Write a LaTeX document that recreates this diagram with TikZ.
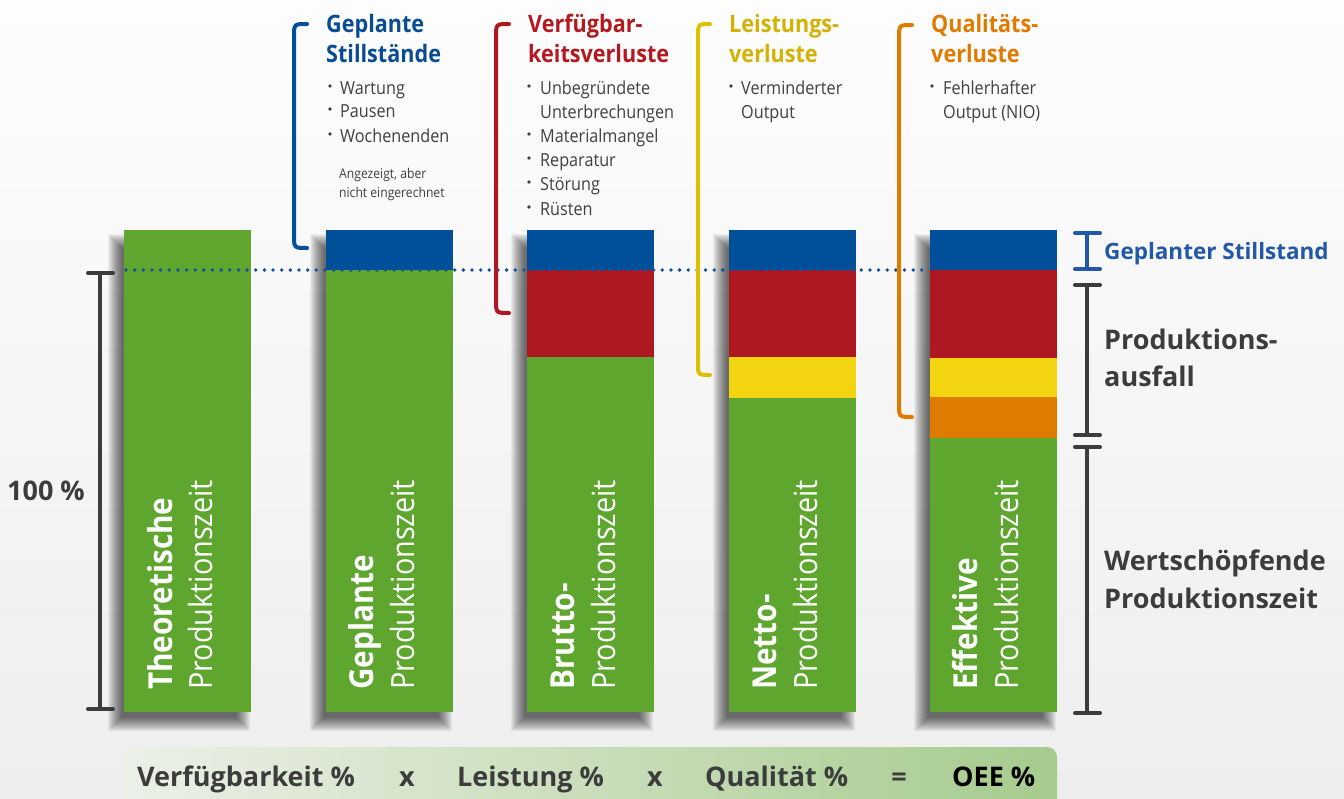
\documentclass[tikz,border=0pt]{standalone}
\usepackage{fontspec}
\setmainfont{Open Sans}[FakeStretch=0.9]
\newfontfamily\widefont{Open Sans}

\definecolor{bgtop}{HTML}{FDFDFD}
\definecolor{bgbot}{HTML}{EEEEEE}
\definecolor{cgreen}{HTML}{5EA62E}
\definecolor{cblue}{HTML}{004F9A}
\definecolor{cred}{HTML}{AE1820}
\definecolor{cyellow}{HTML}{F2D411}
\definecolor{corange}{HTML}{DE7C00}
\definecolor{hblue}{HTML}{0A4C94}
\definecolor{hred}{HTML}{B3191F}
\definecolor{hgold}{HTML}{D2B204}
\definecolor{horange}{HTML}{E07B00}
\definecolor{brgold}{HTML}{DCC005}
\definecolor{sblue}{HTML}{2158A8}
\definecolor{dotblue}{HTML}{1A4F9A}
\definecolor{dark}{HTML}{3C3C3C}
\definecolor{bodytext}{HTML}{404040}
\definecolor{bandleft}{HTML}{ECF0E8}
\definecolor{bandright}{HTML}{A6CB8D}

\tikzset{
  txt/.style={inner sep=0pt, anchor=base west},
  head/.style={txt, font=\bfseries\fontsize{24}{28}\selectfont},
  item/.style={txt, text=bodytext, font=\fontsize{18}{22}\selectfont},
  note/.style={txt, text=bodytext, font=\fontsize{13.5}{16}\selectfont},
  barbold/.style={txt, rotate=90, text=white, font=\bfseries\fontsize{33}{36}\selectfont},
  barlight/.style={txt, rotate=90, text=white, font=\fontsize{32}{35}\selectfont},
  sidelabel/.style={txt, text=dark, font=\widefont\bfseries\fontsize{27}{30}\selectfont},
  formula/.style={inner sep=0pt, anchor=base west, text=dark, font=\widefont\bfseries\fontsize{27}{30}\selectfont},
  shadowlayer/.style={fill=black, fill opacity=0.05},
  bracket/.style={line width=4pt, line cap=round},
  scalebar/.style={line width=4pt, line cap=round, draw=dark},
  bul/.style={fill=bodytext},
}

\begin{document}
\begin{tikzpicture}[x=1pt,y=-1pt]
\useasboundingbox (0,0) rectangle (1344,798);
\shade[top color=bgtop, bottom color=bgbot] (0,0) rectangle (1344,798);

% bottom formula band
\shade[left color=bandleft, right color=bandright, rounded corners=10pt]
  (123,810) -- (123,747) -- (1057,747) -- (1057,810) -- cycle;

% soft drop shadows to the lower left of the bars
\foreach \bx in {124,326,527,729,930} {
  \foreach \i in {0,...,14} {
    \fill[shadowlayer] (\bx-2-\i,248-\i) rectangle (\bx+112+\i,717+\i);
  }
}

% bars (green base, loss segments on top)
\foreach \bx in {124,326,527,729,930} {
  \fill[cgreen] (\bx,230) rectangle ++(127,482);
}
\foreach \bx in {326,527,729,930} {
  \fill[cblue] (\bx,230) rectangle ++(127,40);
}
\fill[cred] (527,270) rectangle (654,357);
\fill[cred] (729,270) rectangle (856,357);
\fill[cyellow] (729,357) rectangle (856,398);
\fill[cred] (930,270) rectangle (1057,358);
\fill[cyellow] (930,358) rectangle (1057,397);
\fill[corange] (930,397) rectangle (1057,438);

% planned downtime level
\coordinate (lvlA) at (126,270);
\coordinate (lvlB) at (930,270);
\draw[dotblue, line width=3.8pt, line cap=round, dash pattern=on 0pt off 8.65pt] (lvlA) -- (lvlB);

% labels inside the bars
\node[barbold]  (b1a) at (172,690) {Theoretische};
\node[barlight] (b1b) at (212,690) {Produktionszeit};
\node[barbold]  (b2a) at (373,690) {Geplante};
\node[barlight] (b2b) at (414,690) {Produktionszeit};
\node[barbold]  (b3a) at (574,690) {Brutto-};
\node[barlight] (b3b) at (615,690) {Produktionszeit};
\node[barbold]  (b4a) at (776,690) {Netto-};
\node[barlight] (b4b) at (817,690) {Produktionszeit};
\node[barbold]  (b5a) at (977,690) {Effektive};
\node[barlight] (b5b) at (1018,690) {Produktionszeit};

% brackets
\draw[bracket, cblue]   (307,24) .. controls (294,24) .. (294,37) -- (294,235) .. controls (294,248) .. (307,248);
\draw[bracket, cred]    (509,24) .. controls (496,24) .. (496,37) -- (496,300) .. controls (496,313) .. (509,313);
\draw[bracket, brgold]  (710,24) .. controls (698,24) .. (698,37) -- (698,363) .. controls (698,375) .. (710,375);
\draw[bracket, corange] (912,25) .. controls (899,25) .. (899,38) -- (899,404) .. controls (899,417) .. (912,417);

% headings
\node[head, text=hblue]   (g1) at (326,32) {Geplante};
\node[head, text=hblue]   (g2) at (326,62) {Stillstände};
\node[head, text=hred]    (v1) at (528,32) {Verfügbar-};
\node[head, text=hred]    (v2) at (528,62) {keitsverluste};
\node[head, text=hgold]   (l1) at (729,32) {Leistungs-};
\node[head, text=hgold]   (l2) at (729,62) {verluste};
\node[head, text=horange] (q1) at (931,32) {Qualitäts-};
\node[head, text=horange] (q2) at (931,62) {verluste};

% lists
\foreach \yy in {94,117,142} { \fill[bul] (330,\yy-8) circle (1.8pt); }
\node[item] (p1) at (340,94)  {Wartung};
\node[item] (p2) at (340,117) {Pausen};
\node[item] (p3) at (340,142) {Wochenenden};
\node[note] (n1) at (339,178) {Angezeigt, aber};
\node[note] (n2) at (339,197) {nicht eingerechnet};

\foreach \yy in {94,142,166,190,215} { \fill[bul] (529,\yy-8) circle (1.8pt); }
\node[item] (a1) at (540,94)  {Unbegründete};
\node[item] (a2) at (540,118) {Unterbrechungen};
\node[item] (a3) at (540,142) {Materialmangel};
\node[item] (a4) at (540,166) {Reparatur};
\node[item] (a5) at (540,190) {Störung};
\node[item] (a6) at (540,215) {Rüsten};

\fill[bul] (731,86) circle (1.8pt);
\node[item] (s1) at (741,94)  {Verminderter};
\node[item] (s2) at (741,118) {Output};

\fill[bul] (932,86) circle (1.8pt);
\node[item] (f1) at (943,94)  {Fehlerhafter};
\node[item] (f2) at (943,118) {Output (NIO)};

% scale on the right
\coordinate (gsT) at (1087,233); \coordinate (gsB) at (1087,269);
\draw[line width=4pt, line cap=round, draw=sblue] (gsT) -- (gsB)
  (1075,233) -- (1100,233) (1075,269) -- (1100,269);
\coordinate (paT) at (1087,285); \coordinate (paB) at (1087,435);
\draw[scalebar] (paT) -- (paB) (1075,285) -- (1100,285) (1075,435) -- (1100,435);
\coordinate (wpT) at (1087,447); \coordinate (wpB) at (1087,713);
\draw[scalebar] (wpT) -- (wpB) (1075,447) -- (1100,447) (1075,713) -- (1100,713);

\node[txt, text=sblue, font=\widefont\bfseries\fontsize{22.5}{26}\selectfont] (gs) at (1104,259) {Geplanter Stillstand};
\node[sidelabel] (pa1) at (1104,349) {Produktions-};
\node[sidelabel] (pa2) at (1104,386) {ausfall};
\node[sidelabel] (wp1) at (1104,570) {Wertschöpfende};
\node[sidelabel] (wp2) at (1104,608) {Produktionszeit};

% scale on the left
\coordinate (hT) at (100,273); \coordinate (hB) at (100,709);
\draw[scalebar] (hT) -- (hB) (88,273) -- (113,273) (88,709) -- (113,709);
\node[txt, text=dark, font=\widefont\bfseries\fontsize{27}{30}\selectfont] (pct) at (7,500) {100 \%};

% formula
\node[formula] (fa) at (137,786) {Verfügbarkeit \%};
\node[formula, anchor=base] (fx1) at (407,786) {x};
\node[formula] (fb) at (457,786) {Leistung \%};
\node[formula, anchor=base] (fx2) at (655,786) {x};
\node[formula] (fc) at (705,786) {Qualität \%};
\node[formula, anchor=base] (feq) at (899,786) {=};
\node[formula, text=black] (fd) at (952,786) {OEE \%};
\end{tikzpicture}
\end{document}
